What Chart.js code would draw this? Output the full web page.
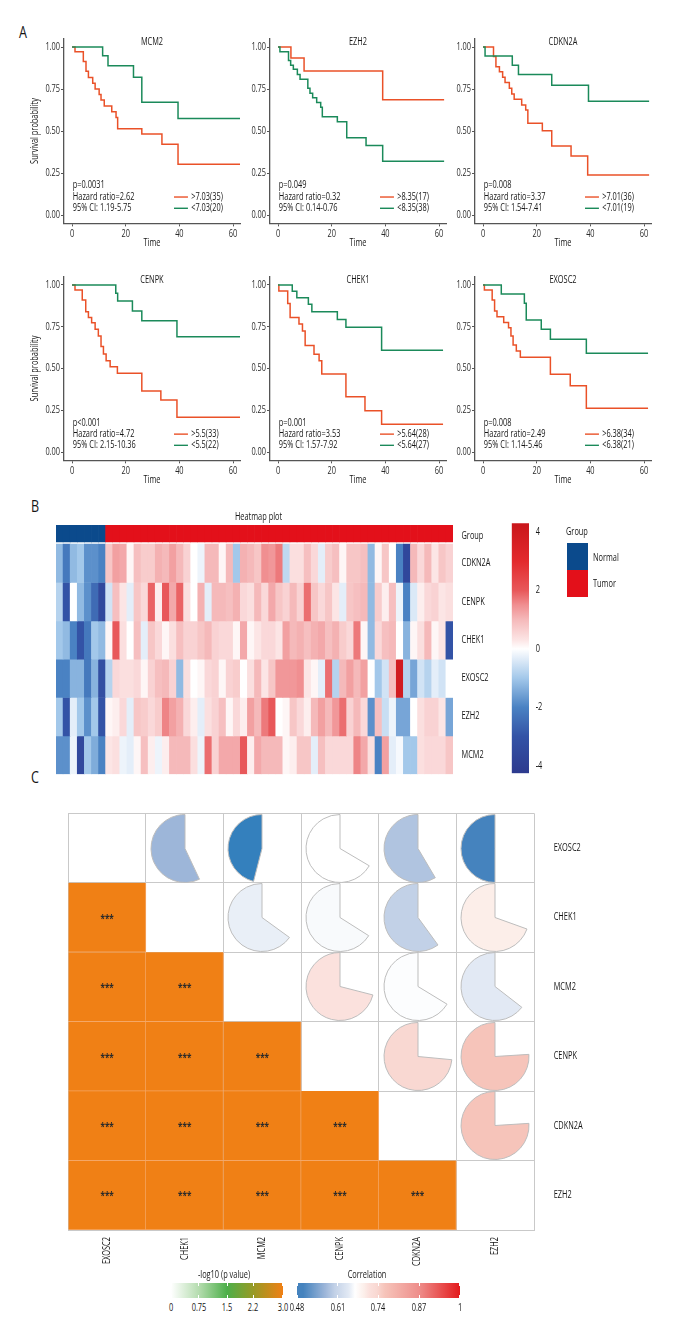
<!DOCTYPE html>
<html><head><meta charset="utf-8">
<script src="https://cdn.jsdelivr.net/npm/chart.js@4.4.1/dist/chart.umd.min.js"></script>
<style>
body{margin:0;background:#fff;width:680px;height:1340px;position:relative;overflow:hidden;font-family:"Open Sans","Liberation Sans",sans-serif;color:#151515;}
canvas{position:absolute;}
.t{position:absolute;white-space:nowrap;line-height:1;}
</style></head><body>
<script>
// ---------------- DATA ----------------
const kmGenes = ['MCM2','EZH2','CDKN2A','CENPK','CHEK1','EXOSC2'];
const kmP = ['p=0.0031','p=0.049','p=0.008','p<0.001','p=0.001','p=0.008'];
const kmHR = ['Hazard ratio=2.62','Hazard ratio=0.32','Hazard ratio=3.37','Hazard ratio=4.72','Hazard ratio=3.53','Hazard ratio=2.49'];
const kmCI = ['95% CI: 1.19-5.75','95% CI: 0.14-0.76','95% CI: 1.54-7.41','95% CI: 2.15-10.36','95% CI: 1.57-7.92','95% CI: 1.14-5.46'];
const kmHighLabel = ['>7.03(35)','>8.35(17)','>7.01(36)','>5.5(33)','>5.64(28)','>6.38(34)'];
const kmLowLabel = ['<7.03(20)','<8.35(38)','<7.01(19)','<5.5(22)','<5.64(27)','<6.38(21)'];
const timeTicks = [0,20,40,60];
const survTicks = [0,0.25,0.5,0.75,1];

// [time, survival] pairs
const MCM2_high = [[0,1],[1.1,0.972],[4.2,0.914],[5.2,0.855],[6.1,0.819],[7.7,0.784],[8.6,0.750],[10.1,0.718],[10.8,0.685],[12.0,0.649],[14.8,0.615],[16.4,0.581],[17.0,0.514],[26.0,0.482],[33.5,0.421],[39.5,0.302],[62.6,0.302]];
const MCM2_low = [[0,1],[11.4,0.948],[13.4,0.889],[22.9,0.820],[26.0,0.671],[39.5,0.575],[62.6,0.575]];
const EZH2_high = [[0,1],[4.8,0.935],[9.7,0.857],[39.0,0.686],[61.9,0.686]];
const EZH2_low = [[0,1],[0.7,0.972],[3.9,0.919],[4.7,0.891],[5.7,0.867],[7.2,0.837],[8.2,0.808],[11.1,0.754],[11.9,0.724],[12.9,0.698],[14.4,0.669],[15.9,0.641],[16.5,0.585],[22.1,0.555],[25.6,0.460],[32.8,0.413],[39.0,0.320],[61.9,0.320]];
const CDKN2A_high = [[0,1],[3.9,0.944],[4.8,0.883],[6.1,0.853],[7.3,0.820],[8.2,0.788],[9.8,0.754],[10.7,0.720],[11.6,0.689],[14.4,0.655],[15.9,0.625],[16.7,0.546],[22.1,0.502],[25.6,0.411],[32.8,0.351],[39.0,0.238],[61.9,0.238]];
const CDKN2A_low = [[0,1],[0.75,0.946],[10.9,0.891],[13.2,0.837],[25.6,0.772],[39.3,0.677],[61.9,0.677]];
const CENPK_high = [[0,1],[1.1,0.970],[3.8,0.910],[5.1,0.840],[6.1,0.806],[7.3,0.774],[8.6,0.735],[9.8,0.695],[10.8,0.631],[11.7,0.587],[12.7,0.547],[14.2,0.511],[16.9,0.471],[26.0,0.365],[33.1,0.311],[39.1,0.208],[62.6,0.208]];
const CENPK_low = [[0,1],[16.3,0.950],[17.0,0.904],[22.5,0.844],[26.0,0.786],[39.1,0.690],[62.6,0.690]];
const CHEK1_high = [[0,1],[0.3,0.964],[3.6,0.889],[4.5,0.806],[7.8,0.766],[9.1,0.725],[10.1,0.637],[13.4,0.585],[15.3,0.547],[16.3,0.467],[25.3,0.331],[32.4,0.247],[38.6,0.166],[61.5,0.166]];
const CHEK1_low = [[0,1],[5.3,0.963],[7.0,0.924],[11.3,0.884],[12.6,0.840],[22.1,0.794],[25.3,0.747],[38.6,0.609],[61.5,0.609]];
const EXOSC2_high = [[0,1],[0.5,0.970],[3.4,0.910],[4.3,0.844],[5.2,0.810],[7.7,0.776],[9.5,0.744],[10.4,0.695],[11.2,0.641],[12.4,0.605],[13.9,0.567],[25.1,0.465],[32.5,0.397],[38.5,0.262],[61.5,0.262]];
const EXOSC2_low = [[0,1],[6.8,0.946],[15.4,0.890],[16.1,0.790],[21.7,0.735],[25.1,0.675],[38.5,0.591],[61.5,0.591]];

// heatmap
const heatGenes = ['CDKN2A','CENPK','CHEK1','EXOSC2','EZH2','MCM2'];
const heatGroup = ['N','N','N','N','N','N','N',
 'T','T','T','T','T','T','T','T','T','T','T','T','T','T','T','T','T','T','T','T','T','T','T','T','T','T','T','T','T','T','T','T','T','T','T','T','T','T','T','T','T','T','T','T','T','T','T','T','T'];
const heat_CDKN2A = [-1.2,-2.2,-1.2,-1.0,-1.8,-1.8,-2.0, 0.8,1.3,1.2,0.1,0.9,0.7,0.7,1.1,1.0,1.3,1.0,0.6,0.0,-0.2,1.0,1.0,0.1,1.0,-1.0,1.1,1.0,0.8,1.5,1.4,1.7,-0.7,0.4,0.4,0.9,0.5,-0.3,0.7,0.9,0.1,0.8,0.8,0.9,-1.2,0.1,0.8,0.0,-2.0,-3.6,1.0,0.5,1.0,0.3,0.8,0.6];
const heat_CENPK = [-0.8,-3.0,0.0,-1.2,-1.8,-2.5,-3.5, -0.5,0.9,0.3,-0.3,0.8,0.5,1.9,0.2,2.0,1.2,1.9,0.4,0.0,1.1,-0.3,1.0,1.0,0.9,1.1,0.5,0.4,1.0,0.5,1.2,0.8,0.6,1.0,0.6,1.8,0.8,0.5,0.8,0.3,-0.3,0.8,0.9,1.0,-1.2,0.7,0.2,0.9,-0.2,-2.0,-0.4,0.2,0.5,0.6,0.3,0.4];
const heat_CHEK1 = [-1.0,-1.2,-2.0,-3.0,-2.2,-1.0,-1.2, 0.1,2.0,0.4,0.0,0.9,-0.3,0.8,0.5,0.1,0.4,0.9,0.6,0.6,0.8,1.0,0.6,0.5,0.5,0.1,1.2,0.1,0.3,0.5,0.5,0.3,1.3,1.0,1.1,0.9,1.1,1.2,0.9,1.1,0.7,0.5,1.7,0.1,-1.2,0.5,0.9,1.0,0.0,-1.3,0.1,0.4,1.0,0.1,0.3,-3.0];
const heat_EXOSC2 = [-2.0,-2.0,-1.3,-1.3,-2.2,-1.3,-3.2, -0.8,0.5,0.4,0.4,0.5,0.1,0.6,0.9,1.0,0.6,-1.2,0.4,0.0,0.1,0.5,0.6,0.1,0.6,0.7,0.0,0.4,1.0,0.3,0.8,1.4,1.4,1.4,1.5,0.3,0.1,-0.3,1.8,-0.8,1.0,1.3,1.0,1.3,0.0,-1.0,-0.5,0.9,3.9,-0.8,-1.5,-0.5,-0.8,-0.3,-0.5,0.0];
const heat_EZH2 = [-1.0,-3.0,-0.3,-1.0,-1.8,-1.0,-3.0, 0.1,0.2,0.5,-0.3,0.8,0.7,0.5,0.7,1.6,1.3,1.1,0.5,0.2,-0.3,0.4,0.6,0.9,0.1,0.5,0.2,1.3,1.0,1.7,2.0,0.0,0.1,0.8,0.5,0.2,1.0,1.3,1.0,1.4,1.8,0.6,1.0,0.5,-1.8,0.9,-0.6,-0.2,-1.5,-1.5,0.0,0.4,0.6,0.6,0.3,-1.5];
const heat_MCM2 = [-1.8,-1.8,-0.2,-3.5,-1.0,-1.4,-2.0, 0.3,0.4,-0.2,-0.3,0.1,0.9,0.2,-0.2,0.2,1.0,1.0,1.0,0.4,-0.2,1.8,0.6,1.2,1.2,1.2,2.0,0.2,1.2,1.0,1.0,1.0,0.1,0.2,0.8,0.8,-0.3,0.9,0.5,0.5,0.5,0.5,1.6,1.2,0.4,-2.0,1.3,-0.3,-0.1,-1.0,-1.0,0.4,0.5,0.5,0.5,0.8];
const heatScaleTicks = [-4,-2,0,2,4];

// correlation
const corrGenes = ['EXOSC2','CHEK1','MCM2','CENPK','CDKN2A','EZH2'];
const corrR = [
 [1,0.57,0.46,0.665,0.585,0.50],
 [0.57,1,0.65,0.66,0.60,0.695],
 [0.46,0.65,1,0.71,0.663,0.645],
 [0.665,0.66,0.71,1,0.735,0.76],
 [0.585,0.60,0.663,0.735,1,0.76],
 [0.50,0.695,0.645,0.76,0.76,1]];
const corrLogP = [
 [0,3,3,3,3,3],[3,0,3,3,3,3],[3,3,0,3,3,3],[3,3,3,0,3,3],[3,3,3,3,0,3],[3,3,3,3,3,0]];
const pLegendTicks = [0,0.75,1.5,2.2,3.0];
const corrLegendTicks = [0.48,0.61,0.74,0.87,1];

// ---------------- STYLE ----------------
const FONT = '"Open Sans","Liberation Sans",sans-serif';
const TXT = '#151515';
const RED = '#EA5128', GREEN = '#1B8A5A', AXIS = '#555555';
const heatStops = [[-4.3,'#2D3A8E'],[-3,'#3353A6'],[-2,'#4A82C3'],[-1,'#A3C8EA'],[-0.3,'#E4EEF9'],[0,'#FFFFFF'],[0.3,'#FCE5E5'],[1,'#F5B9BA'],[1.5,'#F08F91'],[2,'#E8585A'],[3,'#E32A2D'],[4.3,'#C9161B']];
const corrStops = [[0.46,'#3480BD'],[0.50,'#4583BE'],[0.57,'#9DB6D9'],[0.60,'#C2D1E7'],[0.645,'#E2E9F4'],[0.665,'#FFFFFF'],[0.695,'#FCEEE9'],[0.71,'#FBE1DD'],[0.735,'#F9D8D2'],[0.76,'#F6C4BA'],[0.87,'#EE8D8A'],[1.0,'#E31A1C']];
const pStops = [[0,'#FFFFFF'],[0.75,'#B4DCAE'],[1.5,'#4DAF4A'],[2.2,'#979A25'],[3,'#F08015']];

// condensed text rendering (horizontal squeeze to mimic a condensed typeface)
const CP = CanvasRenderingContext2D.prototype;
const _fillText = CP.fillText, _measureText = CP.measureText;
let SX = 0.7;
(function(){const c=document.createElement('canvas').getContext('2d');c.font='10px '+FONT;const w=_measureText.call(c,'Hazard ratio=4.72').width;if(w>0) SX=61.5/w;})();
CP.fillText=function(t,x,y,mw){this.save();this.translate(x,y);this.scale(SX,1);_fillText.call(this,t,0,0);this.restore();};
CP.measureText=function(t){const m=_measureText.call(this,t);return {width:m.width*SX,actualBoundingBoxAscent:m.actualBoundingBoxAscent,actualBoundingBoxDescent:m.actualBoundingBoxDescent,actualBoundingBoxLeft:m.actualBoundingBoxLeft*SX,actualBoundingBoxRight:m.actualBoundingBoxRight*SX,fontBoundingBoxAscent:m.fontBoundingBoxAscent,fontBoundingBoxDescent:m.fontBoundingBoxDescent};};

Chart.defaults.font.family = FONT;
Chart.defaults.color = TXT;
Chart.defaults.animation = false;
Chart.defaults.responsive = false;
Chart.defaults.plugins.legend.display = false;
Chart.defaults.plugins.tooltip.enabled = false;
Chart.defaults.plugins.title.display = false;

function hexToRgb(h){h=h.replace('#','');return [parseInt(h.slice(0,2),16),parseInt(h.slice(2,4),16),parseInt(h.slice(4,6),16)];}
function ramp(stops,v){
  if(v<=stops[0][0]) return stops[0][1];
  if(v>=stops[stops.length-1][0]) return stops[stops.length-1][1];
  for(let i=0;i<stops.length-1;i++){
    const a=stops[i][0], b=stops[i+1][0];
    if(v>=a&&v<=b){const t=(v-a)/(b-a);const A=hexToRgb(stops[i][1]),B=hexToRgb(stops[i+1][1]);
      return 'rgb('+A.map((x,k)=>Math.round(x+(B[k]-x)*t)).join(',')+')';}
  }
}
function fixW(w){return s=>{s.width=w;s.paddingTop=0;s.paddingBottom=0;s.paddingLeft=0;s.paddingRight=0;};}
function fixH(h){return s=>{s.height=h;s.paddingTop=0;s.paddingBottom=0;s.paddingLeft=0;s.paddingRight=0;};}
function addCanvas(left,top,w,h){const c=document.createElement('canvas');c.width=w;c.height=h;c.style.left=left+'px';c.style.top=top+'px';document.body.appendChild(c);return c;}
function addText(txt,x,y,size,align,extra){const d=document.createElement('div');d.className='t';d.textContent=txt;d.style.left=x+'px';d.style.top=y+'px';d.style.fontSize=size+'px';
  const tx = align==='left'?'0':(align==='right'?'-100%':'-50%');
  d.style.transformOrigin=(align==='left'?'left':(align==='right'?'right':'center'))+' center';
  d.style.transform='translate('+tx+',-50%) scaleX('+SX+')'; if(extra) Object.assign(d.style,extra); document.body.appendChild(d); return d;}

// panel letters
addText('A',19,31,17,'left');
addText('B',31,505,17,'left');
addText('C',31,776,17,'left');

// ---------------- PANEL A : KM curves ----------------
const kmCurves = {MCM2:[MCM2_high,MCM2_low],EZH2:[EZH2_high,EZH2_low],CDKN2A:[CDKN2A_high,CDKN2A_low],CENPK:[CENPK_high,CENPK_low],CHEK1:[CHEK1_high,CHEK1_low],EXOSC2:[EXOSC2_high,EXOSC2_low]};
const KM_COL_LEFT=[64,270,475], KM_ROW_TOP=[38.6,276.65], KM_ROW_UNIT=[168,167], KM_W=176, KM_PAD_L=50, KM_PAD_R=8;

const kmTextPlugin = {id:'kmText', afterDatasetsDraw(chart,args,o){
  const {ctx,chartArea:a,scales:{x,y}}=chart;
  ctx.save();
  ctx.fillStyle=TXT; ctx.textBaseline='middle';
  ctx.font='10px '+FONT; ctx.textAlign='center';
  ctx.fillText(o.title,(a.left+a.right)/2,a.top+4);
  ctx.textAlign='left';
  const sx=x.getPixelForValue(0.3);
  ctx.fillText(o.p,sx,y.getPixelForValue(0.175));
  ctx.fillText(o.hr,sx,y.getPixelForValue(0.107));
  ctx.fillText(o.ci,sx,y.getPixelForValue(0.04));
  const l1=x.getPixelForValue(38), l2=x.getPixelForValue(43.2), tx=x.getPixelForValue(44.4);
  [[RED,0.107,o.hi],[GREEN,0.04,o.lo]].forEach(([c,v,t])=>{
    const yy=y.getPixelForValue(v);
    ctx.strokeStyle=c; ctx.lineWidth=1.4; ctx.beginPath(); ctx.moveTo(l1,yy); ctx.lineTo(l2,yy); ctx.stroke();
    ctx.fillStyle=TXT; ctx.fillText(t,tx,yy);
  });
  ctx.restore();
}};

function makeKM(i){
  const col=i%3,row=Math.floor(i/3);
  const T=KM_ROW_TOP[row], H=KM_ROW_UNIT[row]*1.1;
  const cTop=Math.floor(T-10), padT=T-cTop;
  const cH=Math.ceil(padT+H+32), xAxisH=cH-padT-H;
  const cv=addCanvas(KM_COL_LEFT[col]-KM_PAD_L,cTop,KM_PAD_L+KM_W+KM_PAD_R,cH);
  const g=kmGenes[i];
  const [hi,lo]=kmCurves[g];
  const ds=(arr,c)=>({data:arr.map(p=>({x:p[0],y:p[1]})),showLine:true,stepped:'before',borderColor:c,borderWidth:1.5,pointRadius:0,fill:false});
  new Chart(cv,{type:'scatter',
    data:{datasets:[ds(lo,GREEN),ds(hi,RED)]},
    plugins:[kmTextPlugin],
    options:{
      layout:{padding:{top:padT,right:KM_PAD_R,left:0,bottom:0}},
      plugins:{kmText:{title:g,p:kmP[i],hr:kmHR[i],ci:kmCI[i],hi:kmHighLabel[i],lo:kmLowLabel[i]}},
      scales:{
        x:{type:'linear',min:-3,max:62.6,
          afterBuildTicks:s=>{s.ticks=timeTicks.map(v=>({value:v}));},
          afterFit:fixH(xAxisH),
          grid:{drawOnChartArea:false,drawTicks:true,tickLength:3,color:AXIS},
          border:{display:true,color:AXIS,width:1.3},
          ticks:{padding:2,font:{size:10},color:'#2a2a2a',maxRotation:0},
          title:{display:true,text:'Time',font:{size:10},color:TXT,padding:{top:0,bottom:7}}},
        y:{type:'linear',min:-0.05,max:1.05,
          afterBuildTicks:s=>{s.ticks=survTicks.map(v=>({value:v}));},
          afterFit:fixW(KM_PAD_L),
          grid:{drawOnChartArea:false,drawTicks:true,tickLength:3,color:AXIS},
          border:{display:true,color:AXIS,width:1.3},
          ticks:{padding:1,font:{size:10},color:'#2a2a2a',callback:v=>Number(v).toFixed(2)},
          title:{display:col===0,text:'Survival probability',font:{size:10},color:TXT,padding:{top:15,bottom:0}}}
      }
    }});
}
for(let i=0;i<6;i++) makeKM(i);

// ---------------- PANEL B : heatmap ----------------
const heatRows=[heat_CDKN2A,heat_CENPK,heat_CHEK1,heat_EXOSC2,heat_EZH2,heat_MCM2];
const HM={left:56,top:525,w:397,row:38.33,labelW:60,padTop:20};
const hmH=6.5*HM.row;
const hmCanvasH=Math.ceil(HM.padTop+hmH+2);
const hmCv=addCanvas(HM.left,HM.top-HM.padTop,HM.w+HM.labelW,hmCanvasH);
const heatTitlePlugin={id:'heatTitle',afterDraw(chart){const {ctx,chartArea:a}=chart;ctx.save();ctx.font='10px '+FONT;ctx.fillStyle=TXT;ctx.textAlign='center';ctx.textBaseline='middle';ctx.fillText('Heatmap plot',(a.left+a.right)/2+4,a.top-8);ctx.restore();}};
const hmDatasets=heatRows.map((vals,r)=>({data:vals.map(()=>[r,r+1]),backgroundColor:vals.map(v=>ramp(heatStops,v)),borderWidth:0,barPercentage:1,categoryPercentage:1,grouped:false,yAxisID:'y'}));
hmDatasets.push({data:heatGroup.map(()=>[-0.5,-0.06]),backgroundColor:heatGroup.map(g=>g==='N'?'#0B4A8C':'#E3101A'),borderWidth:0,barPercentage:1,categoryPercentage:1,grouped:false,yAxisID:'y'});
new Chart(hmCv,{type:'bar',
  data:{labels:heatGroup.map((g,i)=>g+i),datasets:hmDatasets},
  plugins:[heatTitlePlugin],
  options:{
    layout:{padding:{top:HM.padTop,left:0,right:0,bottom:hmCanvasH-HM.padTop-hmH}},
    scales:{
      x:{type:'category',display:false},
      y:{type:'linear',display:false,min:-0.5,max:6,reverse:true},
      yr:{type:'linear',position:'right',min:-0.5,max:6,reverse:true,
        afterBuildTicks:s=>{s.ticks=[-0.2,0.5,1.5,2.5,3.5,4.5,5.5].map(v=>({value:v}));},
        afterFit:fixW(HM.labelW),
        grid:{display:false,drawTicks:false,tickLength:0},border:{display:false},
        ticks:{padding:8.5,font:{size:10},color:TXT,callback:v=>v<0?'Group':heatGenes[Math.round(v-0.5)]}}
    }
  }});

// colour bar
const CB={w:16.6,h:250,labelW:30};
const cbCv=addCanvas(511,515,Math.ceil(0.7+CB.w+CB.labelW),262);
new Chart(cbCv,{type:'bar',
  data:{labels:['scale'],datasets:[{data:[[-4.26,4.3]],barPercentage:1,categoryPercentage:1,borderWidth:0,
    backgroundColor:(c)=>{const ch=c.chart;if(!ch.chartArea) return '#fff';const y=ch.scales.y;
      const g=ch.ctx.createLinearGradient(0,y.getPixelForValue(y.min),0,y.getPixelForValue(y.max));
      heatStops.forEach(([v,col])=>g.addColorStop(Math.min(1,Math.max(0,(v-y.min)/(y.max-y.min))),col));return g;}}]},
  options:{
    layout:{padding:{left:0.7,top:8.3,bottom:262-8.3-CB.h,right:0}},
    scales:{
      x:{type:'category',display:false},
      y:{type:'linear',position:'right',min:-4.26,max:4.3,
        afterBuildTicks:s=>{s.ticks=heatScaleTicks.map(v=>({value:v}));},
        afterFit:fixW(CB.labelW),
        grid:{display:false,drawTicks:false,tickLength:0},border:{display:false},
        ticks:{padding:6.7,font:{size:10},color:TXT,callback:v=>String(v)}}
    }
  }});

// group legend (HTML)
addText('Group',566,531,10,'left');
(function(){
  const sw=(top,col)=>{const d=document.createElement('div');Object.assign(d.style,{position:'absolute',left:'567.3px',top:top+'px',width:'20.4px',height:'26.7px',background:col});document.body.appendChild(d);};
  sw(543.3,'#0B4A8C'); sw(570,'#E3101A');
  addText('Normal',593,557,10,'left'); addText('Tumor',593,583,10,'left');
})();

// ---------------- PANEL C : correlation ----------------
const CG={left:68.3,top:813.3,w:465,h:416,labelW:90,bottomH:45};
const cgCanvasLeft=67, cgCanvasTop=812;
const cgPadL=CG.left-cgCanvasLeft, cgPadT=CG.top-cgCanvasTop;
const cgCv=addCanvas(cgCanvasLeft,cgCanvasTop,Math.ceil(cgPadL+CG.w+CG.labelW),Math.ceil(cgPadT+CG.h+CG.bottomH));
const starPlugin={id:'stars',afterDatasetsDraw(chart){const {ctx}=chart;ctx.save();ctx.font='bold 11px '+FONT;ctx.fillStyle='#2a2a2a';ctx.textAlign='center';ctx.textBaseline='middle';
  chart.data.datasets.forEach((ds,di)=>{chart.getDatasetMeta(di).data.forEach((el,j)=>{if(ds.data[j]==null) return; const r=di+1; if(corrLogP[r][j]>=3) ctx.fillText('***',el.x,(el.y+el.base)/2+1);});});
  ctx.restore();}};
const cgDatasets=[];
for(let r=1;r<corrGenes.length;r++){
  cgDatasets.push({data:corrGenes.map((_,c)=>c<r?[r,r+1]:null),
    backgroundColor:corrGenes.map((_,c)=>ramp(pStops,corrLogP[r][c])),
    borderColor:'#F5A766',borderWidth:{top:0,left:0,right:1,bottom:1},borderSkipped:false,
    barPercentage:1,categoryPercentage:1,grouped:false,yAxisID:'y'});
}
const gridCol='#C9C9C9';
const cgChart=new Chart(cgCv,{type:'bar',
  data:{labels:corrGenes,datasets:cgDatasets},
  plugins:[starPlugin],
  options:{
    layout:{padding:{left:cgPadL,top:cgPadT,right:0,bottom:0}},
    scales:{
      x:{type:'category',offset:true,
        grid:{offset:true,color:gridCol,drawTicks:false,tickLength:0},
        border:{display:true,color:gridCol},
        afterFit:fixH(CG.bottomH),
        ticks:{autoSkip:false,minRotation:90,maxRotation:90,padding:7,font:{size:10},color:TXT}},
      y:{type:'linear',min:0,max:6,reverse:true,position:'left',
        ticks:{display:false,stepSize:1},
        grid:{color:gridCol,drawTicks:false,tickLength:0},
        border:{display:true,color:gridCol},
        afterFit:fixW(0)},
      yr:{type:'linear',min:0,max:6,reverse:true,position:'right',
        afterBuildTicks:s=>{s.ticks=corrGenes.map((_,i)=>({value:i+0.5}));},
        afterFit:fixW(CG.labelW),
        grid:{display:false,drawTicks:false,tickLength:0},border:{display:false},
        ticks:{padding:19.7,font:{size:10},color:TXT,callback:v=>corrGenes[Math.round(v-0.5)]}}
    }
  }});

// pies in upper triangle
(function(){
  const xs=cgChart.scales.x, ys=cgChart.scales.y;
  const cellW=xs.width/corrGenes.length;
  for(let r=0;r<corrGenes.length;r++){
    for(let c=r+1;c<corrGenes.length;c++){
      const v=corrR[r][c];
      const cx=cgCanvasLeft+xs.getPixelForValue(c);
      const t=cgCanvasTop+ys.getPixelForValue(r), b=cgCanvasTop+ys.getPixelForValue(r+1);
      const w=Math.round(cellW), h=Math.round(b-t);
      const cv=addCanvas(cx-w/2,t+((b-t)-h)/2,w,h);
      new Chart(cv,{type:'pie',
        data:{labels:['rest','r'],datasets:[{data:[1-v,v],
          backgroundColor:['rgba(0,0,0,0)',ramp(corrStops,v)],
          borderColor:['rgba(0,0,0,0)','#BDBDBD'],borderWidth:[0,1]}]},
        options:{layout:{padding:0},rotation:0}});
    }
  }
})();

// bottom legends (HTML)
function gradientLegend(title,ticks,stops,x0,x1,top,h,titleX,fmt){
  const d=document.createElement('div');
  const css=stops.map(([v,c])=>c+' '+((v-ticks[0])/(ticks[ticks.length-1]-ticks[0])*100).toFixed(1)+'%').join(',');
  Object.assign(d.style,{position:'absolute',left:x0+'px',top:top+'px',width:(x1-x0)+'px',height:h+'px',background:'linear-gradient(to right,'+css+')'});
  document.body.appendChild(d);
  ticks.forEach(v=>{
    const px=x0+(v-ticks[0])/(ticks[ticks.length-1]-ticks[0])*(x1-x0);
    [top,top+h-3].forEach(tt=>{const m=document.createElement('div');Object.assign(m.style,{position:'absolute',left:(Math.min(Math.max(px,x0+1),x1-1)-0.5)+'px',top:tt+'px',width:'1px',height:'3px',background:'#fff'});document.body.appendChild(m);});
    addText(fmt(v),px,top+h+9,10,'center');
  });
  addText(title,titleX,top-9,10,'center');
}
gradientLegend('-log10 (p value)',pLegendTicks,pStops,170.7,283.3,1282.7,15.6,224,v=>v===3?'3.0':String(v));
gradientLegend('Correlation',corrLegendTicks,corrStops.filter(s=>s[0]>=0.48),296.7,460,1282.7,15.6,367.3,v=>String(v));
</script>
</body></html>
